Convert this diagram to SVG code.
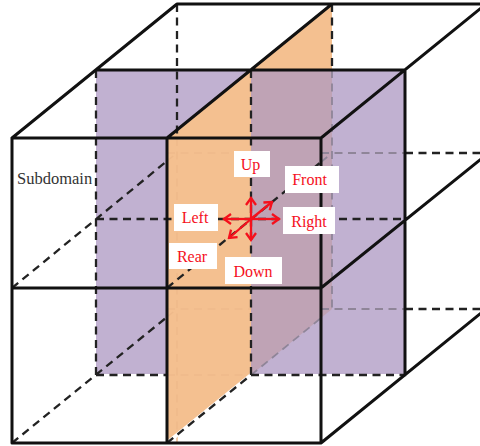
<svg xmlns="http://www.w3.org/2000/svg" width="480" height="446" viewBox="0 0 480 446">
<defs>
<marker id="ah" markerUnits="userSpaceOnUse" markerWidth="11" markerHeight="13" refX="9" refY="6.500" orient="auto"><path d="M2,1.500 L9,6.500 L2,11.500" fill="none" stroke="#f5101c" stroke-width="2.300"/></marker>
</defs>
<style>
.s{stroke:#111;stroke-width:3;fill:none;stroke-linecap:round}
.d{stroke:#222;stroke-width:2.300;fill:none;stroke-dasharray:8 5.500}
.g{stroke:#8f8598;stroke-width:1.800;fill:none;stroke-dasharray:8 5.500}
.f{stroke:#eeb98a;stroke-width:1.400;fill:none;stroke-dasharray:8 5.500}
.w{fill:#fff}
.a{stroke:#f5101c;stroke-width:2.300;fill:none;marker-end:url(#ah)}
.t{font-family:"Liberation Serif",serif;font-size:16px;fill:#f5101c;text-anchor:middle}
</style>
<rect width="480" height="446" fill="#fff"/>
<g id="planes">
<rect x="96" y="70" width="309" height="305" fill="#c1b1d1"/>
<polygon points="167,138 332,4 332,70 251,70 251,375 167,443" fill="#f4c090"/>
<polygon points="251,70 332,70 332,309 251,375" fill="#bfa3b5"/>
</g>
<g id="connectors">
<path class="f" d="M177,138V443M167,153H251M167,309H251M167,375H251M167,161L177,153M167,317L177,309"/>
<path class="g" d="M332,70V309M321,153H405M321,309H405M251,375L321,318M321,162L332,153"/>
<path d="M167,443L251,375M96,376H167M251,376H405" stroke="#fff" stroke-width="3.800" fill="none"/>
<path class="d" d="M177,4V138M332,4V70M96,70V375M251,70V375M96,375H167M251,375H405M96,219H405M405,153H480M405,309H480M12,288L167,161M12,443L167,317M167,288L321,162M167,443L251,375"/>
<path class="s" d="M177,4H480M96,70H405M12,138H321M12,288H321M12,443H321M12,138V443M167,138V443M321,138V443M405,70V375M12,138L177,4M167,138L332,4M321,138L486,4M321,288L486,155M321,443L486,309"/>
</g>
<g id="subdomain"><text x="17" y="184" font-family="'Liberation Serif',serif" font-size="16.500" fill="#333">Subdomain</text></g>
<g id="label-up"><rect class="w" x="234" y="151" width="36" height="26"/><text class="t" x="250.500" y="170">Up</text></g>
<g id="label-front"><rect class="w" x="285" y="166" width="54" height="27"/><text class="t" x="309.500" y="185">Front</text></g>
<g id="label-left"><rect class="w" x="174" y="204" width="44" height="27"/><text class="t" x="195" y="223">Left</text></g>
<g id="label-right"><rect class="w" x="283" y="207" width="52" height="27"/><text class="t" x="309" y="227">Right</text></g>
<g id="label-rear"><rect class="w" x="169" y="243" width="48" height="26"/><text class="t" x="192" y="262">Rear</text></g>
<g id="label-down"><rect class="w" x="225" y="257" width="57" height="27"/><text class="t" x="253" y="277">Down</text></g>
<g id="arrows">
<path class="a" d="M251,219V198"/>
<path class="a" d="M251,219V240"/>
<path class="a" d="M251,219H224"/>
<path class="a" d="M251,219H279"/>
<path class="a" d="M251,219L272,202"/>
<path class="a" d="M251,219L229,238"/>
</g>
</svg>
